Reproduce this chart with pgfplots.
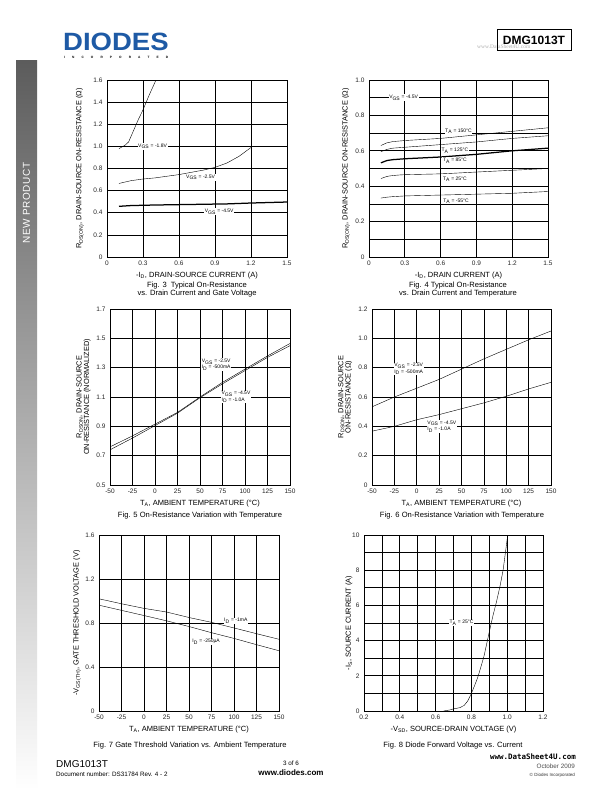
\documentclass[border=0pt]{standalone}
\usepackage{fontspec}
\setmainfont{Liberation Sans}
\newfontfamily\serifwm{Liberation Serif}
\newfontfamily\monowm{DejaVu Sans Mono}
\usepackage{pgfplots}
\pgfplotsset{compat=1.18}
\newcommand{\fs}[1]{\fontsize{#1}{#1}\selectfont}
\definecolor{diodesblue}{RGB}{30,90,165}
\tikzset{lbl/.style={fill=white, inner sep=0.6pt, font=\fs{5}}}
\pgfplotsset{
 ds/.style={
  scale only axis, anchor=south west,
  axis line style={black, line width=0.9pt},
  grid=both,
  major grid style={black, line width=0.75pt},
  minor grid style={black, line width=0.75pt},
  major tick length=0pt, minor tick length=0pt,
  tick label style={font=\fs{6.5}, text=black!85},
  xticklabel style={yshift=-0.5pt},
  yticklabel style={xshift=-1pt},
  every axis x label/.style={at={(axis description cs:0.5,0)}, anchor=center, yshift=-18.5pt, font=\fs{7.5}},
  cycle list={{black, no markers, line width=1.25pt, smooth}},
 },
 ylab/.style={every axis y label/.style={at={(axis description cs:#1,0.5)}, rotate=90, anchor=center, font=\fs{7.4}, align=center}},
}
\begin{document}
\begin{tikzpicture}
\path[use as bounding box, fill=white] (0,0) rectangle (612pt,-792pt);
% sidebar
\shade[top color={rgb,255:red,92;green,92;blue,92}, middle color={rgb,255:red,215;green,215;blue,215}, bottom color=white] (16pt,-61pt) rectangle (37pt,-790pt);
\node[rotate=90, text=white, font=\fs{10}\addfontfeatures{LetterSpace=6}, inner sep=0] at (26.5pt,-203pt) {NEW PRODUCT};
% header
\node[font=\bfseries\fs{25}, text=diodesblue, xscale=1.1, inner sep=0, anchor=base west] at (63pt,-50.7pt) {DIODES};
\node[font=\bfseries\fs{3.2}, anchor=base west, inner sep=0] at (64pt,-59pt) {\makebox[104pt][s]{I N C O R P O R A T E D}};
\node[font=\serifwm\fs{5.5}, text=black!30, anchor=west, inner sep=0] at (477pt,-46.8pt) {www.DataSheet4U.com};
\draw[line width=0.8pt] (497pt,-29.3pt) rectangle (571pt,-50.7pt);
\node[font=\bfseries\fs{12}, inner sep=0] at (534pt,-40pt) {DMG1013T};
% footer
\node[font=\fs{10}, anchor=west, inner sep=0] at (56pt,-764pt) {DMG1013T};
\node[font=\fs{6.3}, anchor=west, inner sep=0] at (56pt,-774pt) {Document number: DS31784 Rev. 4 - 2};
\node[font=\fs{6.3}, inner sep=0] at (291pt,-763pt) {3 of 6};
\node[font=\bfseries\fs{8}, inner sep=0] at (291pt,-773pt) {www.diodes.com};
\node[font=\monowm\bfseries\fs{7.5}, anchor=east, inner sep=0] at (576pt,-757pt) {www.DataSheet4U.com};
\node[font=\fs{6.3}, text=black!70, anchor=east, inner sep=0] at (575pt,-766pt) {October 2009};
\node[font=\fs{4.5}, text=black!80, anchor=east, inner sep=0] at (575pt,-775pt) {© Diodes Incorporated};

% ---------- Fig 3 ----------
\begin{axis}[ds, ylab=-0.15, at={(107pt,-257pt)}, width=180pt, height=177pt,
 xmin=0, xmax=1.5, ymin=0, ymax=1.6,
 xtick={0,0.3,0.6,0.9,1.2,1.5}, xticklabels={0,0.3,0.6,0.9,1.2,1.5},
 ytick={0,0.2,0.4,0.6,0.8,1.0,1.2,1.4,1.6}, yticklabels={0,0.2,0.4,0.6,0.8,1.0,1.2,1.4,1.6},
 xlabel={-I\textsubscript{D}, DRAIN-SOURCE CURRENT (A)},
 ylabel={R\textsubscript{DS(ON)}, DRAIN-SOURCE ON-RESISTANCE (Ω)}]
\addplot coordinates {(0.1,0.98)(0.15,1.01)(0.18,1.04)(0.22,1.14)(0.26,1.24)(0.3,1.33)(0.35,1.46)(0.4,1.58)(0.43,1.66)};
\addplot coordinates {(0.1,0.665)(0.2,0.69)(0.3,0.705)(0.4,0.715)(0.5,0.73)(0.6,0.745)(0.7,0.765)(0.8,0.785)(0.9,0.81)(0.95,0.83)(1.0,0.85)(1.1,0.91)(1.2,0.99)};
\addplot coordinates {(0.1,0.458)(0.2,0.465)(0.4,0.47)(0.7,0.475)(1.0,0.48)(1.2,0.488)(1.5,0.497)};
\node[lbl] at (axis cs:0.38,1.0) {V\textsubscript{GS} = -1.8V};
\node[lbl] at (axis cs:0.78,0.72) {V\textsubscript{GS} = -2.5V};
\node[lbl] at (axis cs:0.935,0.41) {V\textsubscript{GS} = -4.5V};
\end{axis}
\node[font=\fs{7.6}, align=center] at (197pt,-289.5pt) {Fig. 3\ \ Typical On-Resistance\\[0.5pt]vs. Drain Current and Gate Voltage};

% ---------- Fig 4 ----------
\begin{axis}[ds, ylab=-0.128, at={(369pt,-257pt)}, width=179pt, height=177pt,
 xmin=0, xmax=1.5, ymin=0, ymax=1.0,
 xtick={0,0.3,0.6,0.9,1.2,1.5}, xticklabels={0,0.3,0.6,0.9,1.2,1.5},
 ytick={0,0.2,0.4,0.6,0.8,1.0}, yticklabels={0,0.2,0.4,0.6,0.8,1.0},
 minor ytick={0.1,0.3,0.5,0.7,0.9},
 xlabel={-I\textsubscript{D}, DRAIN CURRENT (A)},
 ylabel={R\textsubscript{DS(ON)}, DRAIN-SOURCE ON-RESISTANCE (Ω)}]
\addplot coordinates {(0.1,0.63)(0.15,0.645)(0.2,0.652)(0.3,0.658)(0.6,0.67)(0.9,0.69)(1.2,0.71)(1.5,0.73)};
\addplot coordinates {(0.1,0.595)(0.15,0.608)(0.2,0.615)(0.3,0.62)(0.6,0.635)(0.9,0.65)(1.2,0.67)(1.5,0.685)};
\addplot coordinates {(0.1,0.532)(0.15,0.545)(0.2,0.55)(0.3,0.555)(0.6,0.565)(0.9,0.58)(1.2,0.6)(1.5,0.615)};
\addplot coordinates {(0.1,0.443)(0.15,0.455)(0.2,0.46)(0.3,0.465)(0.6,0.47)(0.9,0.48)(1.2,0.49)(1.5,0.50)};
\addplot coordinates {(0.1,0.333)(0.15,0.338)(0.2,0.341)(0.3,0.345)(0.6,0.35)(0.9,0.355)(1.2,0.36)(1.5,0.37)};
\node[lbl] at (axis cs:0.29,0.9) {V\textsubscript{GS} = -4.5V};
\node[lbl] at (axis cs:0.75,0.71) {T\textsubscript{A} = 150°C};
\node[lbl] at (axis cs:0.72,0.6) {T\textsubscript{A} = 125°C};
\node[lbl] at (axis cs:0.72,0.545) {T\textsubscript{A} = 85°C};
\node[lbl] at (axis cs:0.72,0.44) {T\textsubscript{A} = 25°C};
\node[lbl] at (axis cs:0.73,0.315) {T\textsubscript{A} = -55°C};
\end{axis}
\node[font=\fs{7.6}, align=center] at (458pt,-289.5pt) {Fig. 4 Typical On-Resistance\\[0.5pt]vs. Drain Current and Temperature};

% ---------- Fig 5 ----------
\begin{axis}[ds, ylab=-0.147, at={(110pt,-485pt)}, width=180pt, height=176pt,
 xmin=-50, xmax=150, ymin=0.5, ymax=1.7,
 xtick={-50,-25,0,25,50,75,100,125,150}, xticklabels={-50,-25,0,25,50,75,100,125,150},
 ytick={0.5,0.7,0.9,1.1,1.3,1.5,1.7}, yticklabels={0.5,0.7,0.9,1.1,1.3,1.5,1.7},
 xlabel={T\textsubscript{A}, AMBIENT TEMPERATURE (°C)},
 ylabel={R\textsubscript{DSON}, DRAIN-SOURCE\\ON-RESISTANCE (NORMALIZED)}]
\addplot coordinates {(-50,0.76)(-25,0.835)(0,0.915)(25,0.995)(50,1.1)(75,1.2)(100,1.29)(125,1.38)(150,1.465)};
\addplot coordinates {(-50,0.74)(-25,0.82)(0,0.905)(25,0.99)(50,1.095)(75,1.19)(100,1.28)(125,1.37)(150,1.45)};
\node[lbl, align=left] at (axis cs:68,1.32) {V\textsubscript{GS} = -2.5V\\I\textsubscript{D} = -500mA};
\node[lbl, align=left] at (axis cs:90,1.1) {V\textsubscript{GS} = -4.5V\\I\textsubscript{D} = -1.0A};
\end{axis}
\node[font=\fs{7.6}] at (200pt,-516pt) {Fig. 5 On-Resistance Variation with Temperature};

% ---------- Fig 6 ----------
\begin{axis}[ds, ylab=-0.15, at={(372pt,-485pt)}, width=179pt, height=176pt,
 xmin=-50, xmax=150, ymin=0, ymax=1.2,
 xtick={-50,-25,0,25,50,75,100,125,150}, xticklabels={-50,-25,0,25,50,75,100,125,150},
 ytick={0,0.2,0.4,0.6,0.8,1.0,1.2}, yticklabels={0,0.2,0.4,0.6,0.8,1.0,1.2},
 xlabel={T\textsubscript{A}, AMBIENT TEMPERATURE (°C)},
 ylabel={R\textsubscript{DSON}, DRAIN-SOURCE\\ON-RESISTANCE (Ω)}]
\addplot coordinates {(-50,0.533)(-25,0.6)(0,0.66)(25,0.72)(50,0.79)(75,0.86)(100,0.925)(125,0.99)(150,1.05)};
\addplot coordinates {(-50,0.367)(-25,0.40)(0,0.445)(25,0.48)(50,0.52)(75,0.56)(100,0.605)(125,0.655)(150,0.70)};
\node[lbl, align=left] at (axis cs:-9,0.79) {V\textsubscript{GS} = -2.5V\\I\textsubscript{D} = -500mA};
\node[lbl, align=left] at (axis cs:28,0.4) {V\textsubscript{GS} = -4.5V\\I\textsubscript{D} = -1.0A};
\end{axis}
\node[font=\fs{7.6}] at (462pt,-516pt) {Fig. 6 On-Resistance Variation with Temperature};

% ---------- Fig 7 ----------
\begin{axis}[ds, ylab=-0.122, at={(99pt,-711pt)}, width=180pt, height=176pt,
 xmin=-50, xmax=150, ymin=0, ymax=1.6,
 xtick={-50,-25,0,25,50,75,100,125,150}, xticklabels={-50,-25,0,25,50,75,100,125,150},
 ytick={0,0.4,0.8,1.2,1.6}, yticklabels={0,0.4,0.8,1.2,1.6},
 xlabel={T\textsubscript{A}, AMBIENT TEMPERATURE (°C)},
 ylabel={-V\textsubscript{GS(TH)}, GATE THRESHOLD VOLTAGE (V)}]
\addplot coordinates {(-50,1.02)(-25,0.975)(0,0.933)(25,0.9)(50,0.85)(75,0.806)(100,0.755)(125,0.703)(150,0.652)};
\addplot coordinates {(-50,0.962)(-25,0.915)(0,0.868)(25,0.82)(50,0.768)(75,0.712)(100,0.66)(125,0.603)(150,0.548)};
\node[lbl] at (axis cs:102,0.82) {I\textsubscript{D} = -1mA};
\node[lbl] at (axis cs:69,0.63) {I\textsubscript{D} = -250µA};
\end{axis}
\node[font=\fs{7.6}] at (190pt,-746pt) {Fig. 7 Gate Threshold Variation vs. Ambient Temperature};

% ---------- Fig 8 ----------
\begin{axis}[ds, ylab=-0.084, at={(364pt,-711pt)}, width=179pt, height=176pt,
 xmin=0.2, xmax=1.2, ymin=0, ymax=10,
 xtick={0.2,0.4,0.6,0.8,1.0,1.2}, xticklabels={0.2,0.4,0.6,0.8,1.0,1.2},
 minor xtick={0.3,0.5,0.7,0.9,1.1},
 ytick={0,2,4,6,8,10}, yticklabels={0,2,4,6,8,10},
 minor ytick={1,3,5,7,9},
 xlabel={-V\textsubscript{SD}, SOURCE-DRAIN VOLTAGE (V)},
 ylabel={-I\textsubscript{S}, SOURCE CURRENT (A)}]
\addplot coordinates {(0.645,0)(0.68,0.06)(0.70,0.12)(0.735,0.19)(0.76,0.32)(0.78,0.58)(0.80,1.0)(0.82,1.5)(0.835,1.9)(0.85,2.4)(0.87,3.1)(0.885,3.8)(0.90,4.5)(0.92,5.4)(0.94,6.2)(0.96,7.1)(0.977,8.0)(0.99,9.0)(1.003,10.0)};
\node[lbl] at (axis cs:0.745,5) {T\textsubscript{A} = 25°C};
\end{axis}
\node[font=\fs{7.6}] at (453pt,-746pt) {Fig. 8 Diode Forward Voltage vs. Current};
\end{tikzpicture}
\end{document}
